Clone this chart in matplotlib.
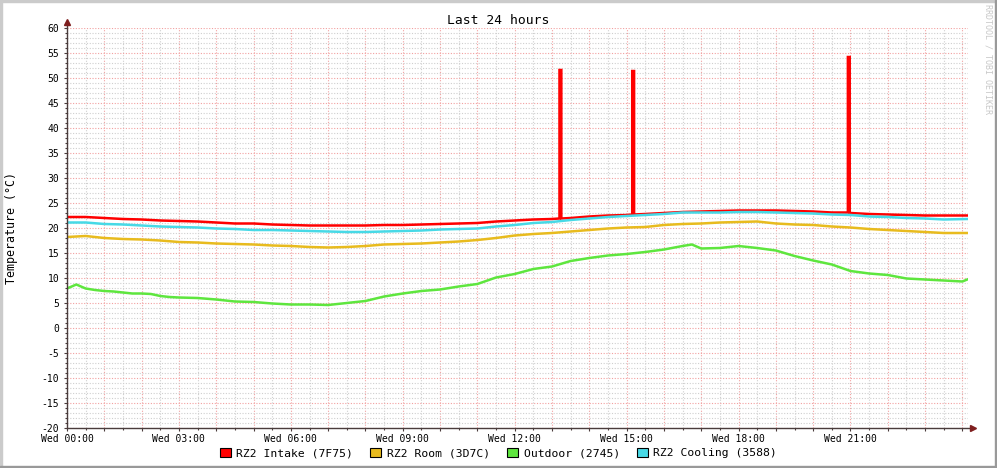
import numpy as np
import matplotlib
matplotlib.use("Agg")
import matplotlib.pyplot as plt
from matplotlib.patches import Patch, Rectangle
from matplotlib.ticker import MultipleLocator

plt.rcParams['font.family'] = ['DejaVu Sans Mono']
plt.rcParams['axes.unicode_minus'] = False

# half-hour samples, hours since Wed 00:00 (last one is "now")
hours = np.append(np.arange(0, 24, 0.5), 24.13)

intake = [22.2, 22.2, 22.0, 21.8, 21.7, 21.5, 21.4, 21.3, 21.1, 20.9,
          20.9, 20.7, 20.6, 20.5, 20.5, 20.5, 20.5, 20.6, 20.6, 20.7,
          20.8, 20.9, 21.0, 21.3, 21.5, 21.7, 21.8, 22.0, 22.3, 22.5,
          22.6, 22.8, 23.0, 23.2, 23.3, 23.4, 23.5, 23.5, 23.5, 23.4,
          23.3, 23.1, 23.0, 22.8, 22.7, 22.6, 22.5, 22.5, 22.5]

room = [18.2, 18.4, 18.0, 17.8, 17.7, 17.5, 17.2, 17.1, 16.9, 16.8,
        16.7, 16.5, 16.4, 16.2, 16.1, 16.2, 16.4, 16.7, 16.8, 16.9,
        17.1, 17.3, 17.6, 18.0, 18.5, 18.8, 19.0, 19.3, 19.6, 19.9,
        20.1, 20.2, 20.6, 20.8, 20.9, 21.1, 21.2, 21.3, 20.9, 20.7,
        20.6, 20.3, 20.1, 19.8, 19.6, 19.4, 19.2, 19.0, 19.0]

cooling = [21.1, 21.1, 20.8, 20.7, 20.5, 20.3, 20.2, 20.1, 19.9, 19.8,
           19.6, 19.6, 19.5, 19.4, 19.3, 19.2, 19.2, 19.3, 19.4, 19.5,
           19.7, 19.8, 19.9, 20.3, 20.6, 21.0, 21.2, 21.6, 21.9, 22.2,
           22.4, 22.6, 22.8, 23.1, 23.1, 23.1, 23.2, 23.2, 23.1, 23.0,
           22.9, 22.7, 22.6, 22.3, 22.2, 22.0, 21.9, 21.7, 21.8]

outdoor_hours = [0, 0.25, 0.5, 0.75, 1.0, 1.25, 1.5, 1.75, 2.0, 2.25,
                 2.5, 2.75, 3.0, 3.5, 4.0, 4.5, 5.0, 5.5, 6.0, 6.5,
                 7.0, 7.5, 8.0, 8.5, 9.0, 9.5, 10.0, 10.5, 11.0, 11.5,
                 12.0, 12.5, 13.0, 13.5, 14.0, 14.5, 15.0, 15.5, 16.0, 16.5,
                 16.75, 17.0, 17.5, 18.0, 18.5, 19.0, 19.5, 20.0, 20.5, 21.0,
                 21.5, 22.0, 22.5, 23.0, 23.5, 24.0, 24.13]
outdoor = [7.9, 8.7, 7.9, 7.6, 7.4, 7.3, 7.1, 6.9, 6.9, 6.8,
           6.4, 6.2, 6.1, 6.0, 5.7, 5.3, 5.2, 4.9, 4.7, 4.7,
           4.6, 5.0, 5.4, 6.3, 6.9, 7.4, 7.7, 8.3, 8.8, 10.1,
           10.8, 11.8, 12.3, 13.4, 14.0, 14.5, 14.8, 15.2, 15.7, 16.4,
           16.7, 15.9, 16.0, 16.4, 16.0, 15.5, 14.4, 13.5, 12.7, 11.4,
           10.9, 10.6, 9.9, 9.7, 9.5, 9.3, 9.7]

# short spikes in the intake sensor
spike_hours = [13.2, 15.15, 20.93]
spike_tops = [51.6, 51.4, 54.2]
spike_base = [21.9, 22.7, 23.1]
spike_len = 0.05

tick_hours = [0, 3, 6, 9, 12, 15, 18, 21]
tick_labels = ["Wed 00:00", "Wed 03:00", "Wed 06:00", "Wed 09:00",
               "Wed 12:00", "Wed 15:00", "Wed 18:00", "Wed 21:00"]

names = ["RZ2 Intake (7F75)", "RZ2 Room (3D7C)", "Outdoor (2745)", "RZ2 Cooling (3588)"]
colors = ["#ff0000", "#e8bb1e", "#5ee63e", "#47d9e6"]

W, H = 997, 468
fig = plt.figure(figsize=(W / 100, H / 100), dpi=100)
fig.patch.set_facecolor("white")
ax = fig.add_axes([67 / W, 40 / H, 901 / W, 400 / H])
ax.set_facecolor("white")

# merge spikes into the intake series
red_t = list(hours)
red_v = list(intake)
for t, top, base in zip(spike_hours, spike_tops, spike_base):
    red_t += [t, t, t + spike_len, t + spike_len]
    red_v += [base, top, top, base]
order = np.argsort(red_t, kind="stable")
red_t = np.array(red_t)[order]
red_v = np.array(red_v)[order]

lw = 1.8
ax.plot(red_t, red_v, color=colors[0], lw=lw, solid_joinstyle="miter", zorder=3)
ax.plot(hours, room, color=colors[1], lw=lw, zorder=3)
ax.plot(outdoor_hours, outdoor, color=colors[2], lw=lw, zorder=3)
ax.plot(hours, cooling, color=colors[3], lw=lw, zorder=3)

ax.set_xlim(0, 24.15)
ax.set_ylim(-20, 60)

# grid: red dotted major, gray dotted minor
ax.xaxis.set_minor_locator(MultipleLocator(0.5))
ax.yaxis.set_major_locator(MultipleLocator(5))
ax.yaxis.set_minor_locator(MultipleLocator(1))
ax.set_xticks(np.arange(0, 25, 1))
lab = dict(zip(tick_hours, tick_labels))
ax.set_xticklabels([lab.get(int(h), "") for h in np.arange(0, 25, 1)])
ax.grid(which="major", color="#f2a0a0", linestyle=(0, (1, 1.5)), lw=0.8, zorder=0)
ax.grid(which="minor", color="#cfcfcf", linestyle=(0, (1, 1.5)), lw=0.8, zorder=0)

axis_col = "#4a3c3c"
for s in ax.spines.values():
    s.set_visible(False)
ax.tick_params(which="major", length=2.5, width=0.8, color=axis_col,
               labelsize=7, pad=2)
ax.tick_params(which="minor", length=1.5, width=0.8, color=axis_col)
ax.tick_params(axis="y", pad=3)

# axis lines with arrow heads
ax.plot([0, 0], [0, 1.012], transform=ax.transAxes, color=axis_col, lw=1, clip_on=False, zorder=4)
ax.plot([0, 1.004], [0, 0], transform=ax.transAxes, color=axis_col, lw=1, clip_on=False, zorder=4)
ax.plot([0], [1.014], transform=ax.transAxes, marker="^", ms=4, color="#7f1f1f", clip_on=False, zorder=5)
ax.plot([1.006], [0], transform=ax.transAxes, marker=">", ms=4, color="#7f1f1f", clip_on=False, zorder=5)

ax.set_ylabel("Temperature (°C)", fontsize=8.4, va="center")
ax.yaxis.set_label_coords(-0.062, 0.5)

fig.text(0.5, 1 - 20 / H, "Last 24 hours", ha="center", va="center", fontsize=9.4)
fig.text(988 / W, 1 - 4 / H, "RRDTOOL / TOBI OETIKER", rotation=270, ha="center",
         va="top", fontsize=6, color="#c8c8c8")

handles = [Patch(facecolor=c, edgecolor="black", lw=0.8) for c in colors]
fig.legend(handles, names, loc="center", bbox_to_anchor=(0.5, 1 - 453 / H), ncol=4,
           frameon=False, fontsize=8.2, handlelength=0.95, handleheight=0.95,
           handletextpad=0.5, columnspacing=1.5, borderaxespad=0)

# 3d border of the image
fig.add_artist(Rectangle((0, 1 - 2 / H), 1, 2 / H, transform=fig.transFigure, color="#cbcbcb"))
fig.add_artist(Rectangle((0, 0), 2 / W, 1, transform=fig.transFigure, color="#cbcbcb"))
fig.add_artist(Rectangle((0, 0), 1, 2 / H, transform=fig.transFigure, color="#999999"))
fig.add_artist(Rectangle((1 - 2 / W, 0), 2 / W, 1, transform=fig.transFigure, color="#999999"))

fig.savefig("out.png", dpi=100)
